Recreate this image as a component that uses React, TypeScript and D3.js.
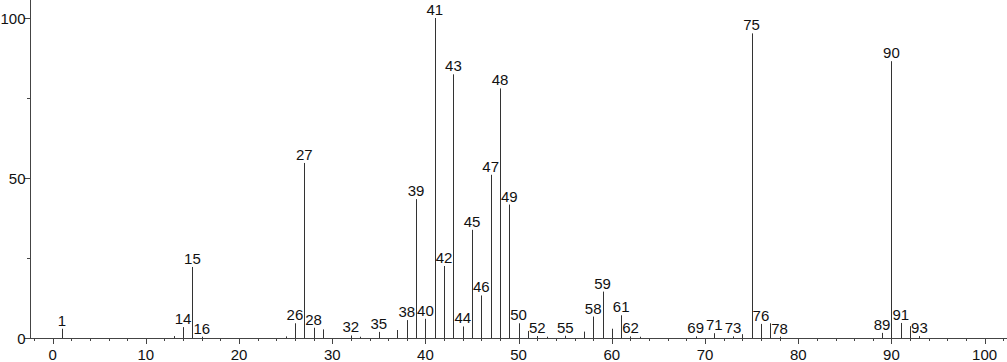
import React from "react";
import * as d3 from "d3";

const mzValues: number[] = [1, 13, 14, 15, 16, 25, 26, 27, 28, 29, 32, 33, 35, 37, 38, 39, 40, 41, 42, 43, 44, 45, 46, 47, 48, 49, 50, 51, 52, 53, 55, 57, 58, 59, 60, 61, 62, 63, 69, 71, 73, 74, 75, 76, 77, 78, 89, 90, 91, 92, 93];
const intensities: number[] = [2.9, 0.6, 3.4, 22.2, 0.4, 0.5, 4.6, 54.7, 3.2, 2.7, 0.8, 0.4, 1.9, 2.5, 5.6, 43.4, 6.0, 100, 22.5, 82.4, 3.6, 33.8, 13.3, 51.0, 78.0, 41.7, 4.6, 2.2, 0.6, 0.4, 0.7, 2.0, 6.7, 14.5, 2.9, 7.1, 0.5, 0.4, 0.5, 1.5, 0.5, 1.2, 95.2, 4.4, 4.6, 0.4, 1.6, 86.5, 4.7, 3.7, 0.6];
const labeledMz: number[] = [1, 14, 15, 16, 26, 27, 28, 32, 35, 38, 39, 40, 41, 42, 43, 44, 45, 46, 47, 48, 49, 50, 52, 55, 58, 59, 61, 62, 69, 71, 73, 75, 76, 78, 89, 90, 91, 93];
const xMajorTicks: number[] = [0, 10, 20, 30, 40, 50, 60, 70, 80, 90, 100];
const xMinorTicks: number[] = d3.range(-2, 103, 2).filter((v) => v % 10 !== 0);
const yMajorTicks: number[] = [0, 50, 100];
const yMinorTicks: number[] = [25, 75];

const W = 1007;
const H = 362;
const AX = "#444";
const FONT = "'Liberation Sans', Arial, sans-serif";
const FS = 15;

export default function App() {
  const x = d3.scaleLinear().domain([-2.43, 102.4]).range([30, 1007]);
  const y = d3.scaleLinear().domain([0, 100]).range([338, 18]);
  const x0 = 30;
  const y0 = y(0);
  const peaks = mzValues.map((m, i) => ({ m, v: intensities[i] }));
  return (
    <svg width={W} height={H} style={{ position: "absolute", left: 0, top: 0, background: "#fff" }} fontFamily={FONT}>
      {peaks.map((p) => (
        <line key={"p" + p.m} x1={Math.round(x(p.m)) + 0.5} x2={Math.round(x(p.m)) + 0.5} y1={y0} y2={y(p.v)} stroke="#333" strokeWidth={1} />
      ))}
      {peaks.filter((p) => labeledMz.includes(p.m)).map((p) => (
        <text key={"l" + p.m} x={x(p.m)} y={y(p.v) - 3} textAnchor="middle" fontSize={FS} fill="#111">{p.m}</text>
      ))}
      <line x1={x0 + 0.5} x2={x0 + 0.5} y1={0} y2={y0} stroke={AX} strokeWidth={1} />
      <line x1={x0} x2={W} y1={y0 + 0.5} y2={y0 + 0.5} stroke={AX} strokeWidth={1} />
      {yMajorTicks.map((t) => (
        <g key={"ym" + t}>
          <line x1={x0 - 6} x2={x0} y1={Math.round(y(t)) + 0.5} y2={Math.round(y(t)) + 0.5} stroke={AX} />
          <text x={25.5} y={y(t) + 5.5} textAnchor="end" fontSize={FS} fill="#111">{t}</text>
        </g>
      ))}
      {yMinorTicks.map((t) => (
        <line key={"yn" + t} x1={x0 - 3} x2={x0} y1={Math.round(y(t)) + 0.5} y2={Math.round(y(t)) + 0.5} stroke={AX} />
      ))}
      {xMajorTicks.map((t) => (
        <g key={"xm" + t}>
          <line x1={Math.round(x(t)) + 0.5} x2={Math.round(x(t)) + 0.5} y1={y0} y2={y0 + 6} stroke={AX} />
          <text x={x(t)} y={360} textAnchor="middle" fontSize={FS} fill="#111">{t}</text>
        </g>
      ))}
      {xMinorTicks.map((t) => (
        <line key={"xn" + t} x1={Math.round(x(t)) + 0.5} x2={Math.round(x(t)) + 0.5} y1={y0} y2={y0 + 3} stroke={AX} />
      ))}
    </svg>
  );
}
